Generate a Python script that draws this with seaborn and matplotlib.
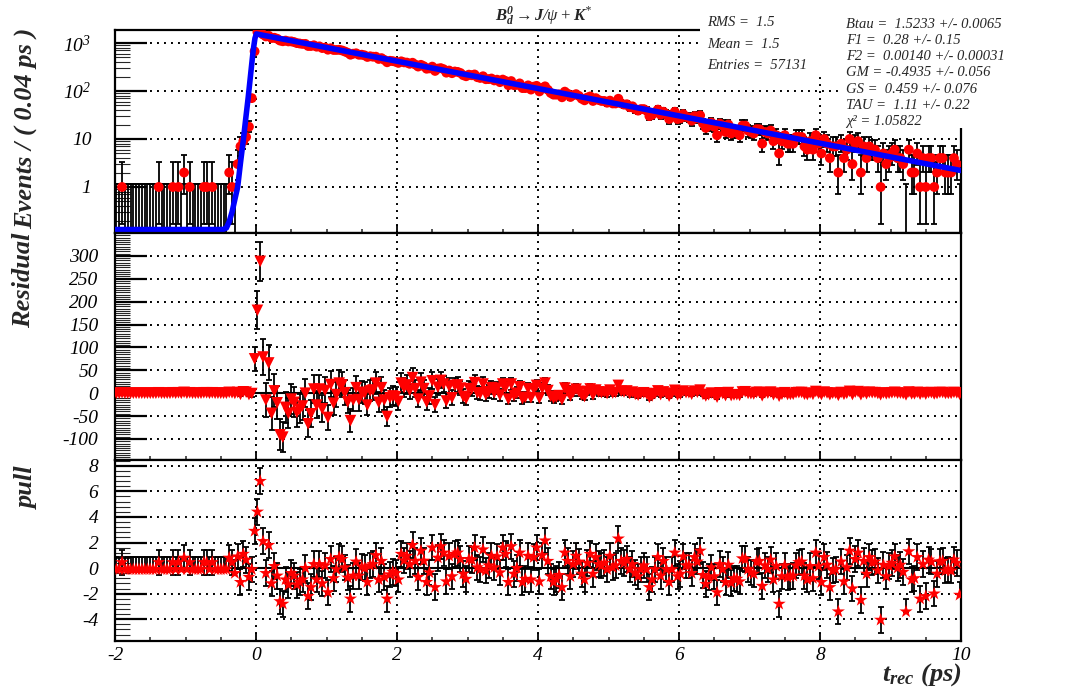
import numpy as np
import matplotlib
matplotlib.use("Agg")
import matplotlib.pyplot as plt
import seaborn as sns
from matplotlib.patches import Rectangle
from matplotlib.ticker import FixedLocator, FixedFormatter, MultipleLocator, NullFormatter

# ---------------- data ----------------
t_range = (-2.0, 10.0)
n_bins = 300

counts = [
    0, 0, 1, 0, 0, 0, 0, 0, 0, 0,
    0, 0, 0, 0, 0, 1, 0, 0, 0, 0,
    1, 0, 1, 0, 2, 0, 1, 0, 0, 0,
    0, 1, 1, 0, 1, 0, 0, 0, 0, 0,
    2, 1, 0, 3, 7, 9, 11, 18, 71, 670,
    1690, 1750, 1502, 1371, 1416, 1271, 1286, 1227, 1124, 1088,
    1122, 1079, 1081, 1046, 996, 976, 957, 959, 867, 865,
    896, 838, 850, 785, 804, 725, 777, 716, 716, 722,
    700, 665, 628, 570, 599, 610, 569, 570, 553, 512,
    529, 518, 519, 465, 484, 445, 397, 426, 419, 406,
    385, 415, 395, 391, 369, 388, 355, 323, 351, 329,
    291, 296, 322, 262, 293, 300, 285, 241, 267, 235,
    255, 250, 237, 213, 203, 219, 213, 221, 194, 187,
    203, 176, 177, 182, 166, 172, 153, 173, 162, 132,
    161, 132, 134, 144, 115, 115, 131, 107, 123, 128,
    98, 116, 125, 106, 91, 84, 84, 85, 74, 97,
    88, 75, 82, 86, 79, 69, 64, 73, 77, 62,
    71, 65, 62, 62, 57, 63, 55, 55, 69, 55,
    52, 53, 46, 48, 42, 39, 42, 42, 39, 30,
    32, 36, 41, 32, 37, 33, 26, 31, 37, 26,
    27, 33, 29, 28, 24, 30, 27, 31, 21, 17,
    19, 22, 18, 12, 21, 19, 14, 20, 13, 14,
    14, 12, 19, 19, 15, 14, 13, 16, 16, 8,
    14, 13, 15, 9, 12, 5, 9, 12, 8, 8,
    8, 11, 11, 11, 7, 6, 9, 6, 12, 8,
    5, 10, 8, 4, 7, 7, 2, 8, 4, 6,
    10, 3, 8, 9, 2, 7, 4, 7, 6, 6,
    4, 1, 5, 3, 4, 5, 6, 4, 4, 3,
    0, 6, 2, 2, 5, 1, 4, 1, 4, 4,
    1, 2, 4, 4, 2, 2, 2, 4, 3, 0,
]

residual = [
    -0.1, -0.1, 0.9, -0.1, -0.1, -0.1, -0.1, -0.1, -0.1, -0.1,
    -0.1, -0.1, -0.1, -0.1, -0.1, 0.9, -0.1, -0.1, -0.1, -0.1,
    0.9, -0.1, 0.9, -0.1, 1.8, -0.1, 0.9, -0.1, -0.1, -0.1,
    -0.1, 0.9, 0.9, -0.1, 0.9, -0.1, -0.1, -0.1, -0.1, -0.1,
    1.8, 0.9, -0.4, 1.5, -2.5, 3.0, 2.2, -3.0, -0.8, 75,
    181, 288, 79, -15, 66, -44, 5, -21, -91, -96,
    -31, -44, -13, -20, -42, -35, -28, 0, -67, -45,
    9, -26, 9, -34, 6, -53, 19, -22, -3, 22,
    18, 1, -19, -60, -15, 12, -14, 2, 0, -26,
    5, 7, 22, -20, 12, -15, -51, -10, -6, -8,
    -18, 22, 12, 18, 6, 34, 10, -13, 24, 10,
    -19, -6, 27, -25, 13, 28, 20, -17, 15, -10,
    17, 18, 11, -7, -12, 10, 9, 23, 1, -1,
    20, -3, 3, 12, 1, 11, -4, 20, 13, -13,
    20, -5, 0, 14, -12, -9, 10, -10, 9, 17,
    -10.5, 10.3, 22.0, 5.7, -6.7, -11.2, -8.7, -5.3, -14.0, 11.3,
    4.5, -6.3, 2.8, 8.8, 3.8, -4.2, -7.3, 3.5, 9.3, -3.9,
    6.8, 2.5, 1.1, 2.7, -0.8, 6.7, 0.2, 1.6, 17.0, 4.3,
    2.6, 4.9, -0.9, 2.4, -2.5, -4.3, -0.2, 0.9, -1.0, -9.0,
    -5.9, -1.0, 5.0, -3.1, 2.8, -0.3, -6.4, -0.6, 6.3, -3.9,
    -2.2, 4.6, 1.3, 1.0, -2.3, 4.4, 2.1, 6.7, -2.6, -6.0,
    -3.4, 0.2, -3.3, -8.7, 0.8, -0.7, -5.2, 1.3, -5.2, -3.7,
    -3.3, -4.8, 2.6, 3.1, -0.5, -1.1, -1.7, 1.6, 2.0, -5.6,
    0.7, 0.1, 2.4, -3.3, 0.1, -6.6, -2.3, 1.0, -2.8, -2.5,
    -2.2, 1.0, 1.3, 1.6, -2.2, -3.0, 0.3, -2.5, 3.7, -0.1,
    -2.9, 2.4, 0.6, -3.3, -0.1, 0.1, -4.7, 1.5, -2.4, -0.2,
    4.0, -2.9, 2.3, 3.4, -3.4, 1.7, -1.2, 2.0, 1.1, 1.2,
    -0.6, -3.5, 0.6, -1.3, -0.2, 0.9, 2.0, 0.1, 0.2, -0.7,
    -3.6, 2.5, -1.4, -1.3, 1.8, -2.1, 1.0, -2.0, 1.1, 1.2,
    -1.7, -0.7, 1.4, 1.5, -0.5, -0.4, -0.3, 1.7, 0.8, -2.2,
]

pull = [
    -0.1, -0.1, 0.45, -0.1, -0.1, -0.1, -0.1, -0.1, -0.1, -0.1,
    -0.1, -0.1, -0.1, -0.1, -0.1, 0.45, -0.1, -0.1, -0.1, -0.1,
    0.45, -0.1, 0.45, -0.1, 0.8, -0.1, 0.45, -0.1, -0.1, -0.1,
    -0.1, 0.45, 0.45, -0.1, 0.45, -0.1, -0.1, -0.1, -0.1, -0.1,
    0.8, 0.45, -0.4, 0.9, -1.1, 1.1, 0.65, -0.7, -0.1, 2.9,
    4.4, 6.8, 2.1, -0.4, 1.8, -1.2, 0.15, -0.6, -2.6, -2.8,
    -0.9, -1.3, -0.4, -0.6, -1.3, -1.1, -0.9, 0.0, -2.2, -1.5,
    0.3, -0.9, 0.3, -1.2, 0.2, -1.9, 0.7, -0.8, -0.1, 0.85,
    0.7, 0.05, -0.75, -2.4, -0.6, 0.5, -0.6, 0.1, 0.0, -1.1,
    0.2, 0.3, 1.0, -0.9, 0.55, -0.7, -2.4, -0.5, -0.3, -0.4,
    -0.9, 1.1, 0.6, 0.95, 0.3, 1.8, 0.55, -0.7, 1.35, 0.57,
    -1.1, -0.35, 1.6, -1.5, 0.8, 1.7, 1.2, -1.05, 0.95, -0.65,
    1.1, 1.2, 0.7, -0.45, -0.85, 0.7, 0.65, 1.6, 0.05, -0.1,
    1.45, -0.2, 0.2, 0.95, 0.05, 0.9, -0.35, 1.6, 1.1, -1.1,
    1.7, -0.45, 0.0, 1.2, -1.1, -0.85, 0.95, -0.9, 0.85, 1.6,
    -1.05, 1.0, 2.15, 0.55, -0.65, -1.1, -0.85, -0.55, -1.5, 1.2,
    0.55, -0.65, 0.3, 0.95, 0.5, -0.45, -0.9, 0.4, 1.1, -0.45,
    0.85, 0.3, 0.2, 0.4, -0.1, 0.95, 0.05, 0.2, 2.3, 0.55,
    0.4, 0.7, -0.1, 0.3, -0.35, -0.65, -0.1, 0.2, -0.1, -1.5,
    -0.9, -0.1, 0.85, -0.6, 0.55, -0.1, -1.1, -0.1, 1.2, -0.65,
    -0.45, 0.9, 0.2, 0.2, -0.4, 0.85, 0.5, 1.35, -0.55, -1.25,
    -0.7, 0.05, -0.65, -1.9, 0.3, -0.1, -1.1, 0.25, -1.15, -0.8,
    -0.85, -1.05, 0.75, 0.7, -0.1, -0.35, -0.45, 0.5, 0.55, -1.4,
    0.2, -0.1, 0.65, -0.9, 0.15, -2.8, -0.65, 0.2, -0.7, -0.65,
    -0.6, 0.2, 0.45, 0.5, -0.6, -0.9, 0.15, -0.8, 1.2, 0.15,
    -1.1, 0.85, 0.25, -1.5, -0.2, -0.1, -3.4, 0.5, -1.05, 0.05,
    1.35, -1.6, 0.7, 1.2, -2.5, 0.55, -0.45, 0.85, 0.45, 0.5,
    -0.2, -4.05, 0.25, -0.65, 0.15, 0.4, 0.9, 0.0, 0.25, -0.3,
    -3.4, 1.3, -0.9, -0.8, 0.85, -2.4, 0.3, -2.2, 0.65, 0.5,
    -2.0, -0.45, 0.5, 0.55, -0.2, -0.1, -0.2, 0.65, 0.4, -2.1,
]

# fitted curve at a few points
fit_t = [-2.0, -0.47, -0.42, -0.38, -0.34, -0.30, -0.26, -0.22, -0.18,
         -0.145, -0.11, -0.075, -0.04, -0.015, 0.005, 10.0]
fit_y = [0.13, 0.13, 0.14, 0.19, 0.3, 0.55, 1.0, 3.2, 9.5,
         27, 75, 230, 700, 1250, 1545, 2.2]

# Poisson 68% intervals for small counts (RooFit style)
pois_lo = [0.0, 0.827, 1.292, 1.633, 1.914, 2.160, 2.380, 2.581, 2.768, 2.943]
pois_hi = [1.148, 2.300, 2.638, 2.918, 3.163, 3.382, 3.584, 3.770, 3.945, 4.110]

top_ticks = [1, 10, 100, 1000]
top_labels = ["1", "10", r"$\mathit{10}^{\mathit{2}}$", r"$\mathit{10}^{\mathit{3}}$"]
mid_ticks = [-100, -50, 0, 50, 100, 150, 200, 250, 300]
bot_ticks = [-4, -2, 0, 2, 4, 6, 8]

stats_lines = ["RMS =  1.5", "Mean =  1.5", "Entries =  57131"]
param_lines = ["Btau =  1.5233 +/- 0.0065", "F1 =  0.28 +/- 0.15",
               "F2 =  0.00140 +/- 0.00031", "GM = -0.4935 +/- 0.056",
               "GS =  0.459 +/- 0.076", "TAU =  1.11 +/- 0.22",
               "\u03c7\u00b2 = 1.05822"]

# ---------------- style ----------------
sns.set_theme(style="white")
plt.rcParams["font.family"] = ["Liberation Serif", "DejaVu Serif"]
plt.rcParams["font.style"] = "italic"
plt.rcParams["axes.unicode_minus"] = False
plt.rcParams["mathtext.fontset"] = "custom"
plt.rcParams["mathtext.rm"] = "Liberation Serif"
plt.rcParams["mathtext.it"] = "Liberation Serif:italic"
plt.rcParams["mathtext.bf"] = "Liberation Serif:bold"
plt.rcParams["mathtext.bfit"] = "Liberation Serif:italic:bold"

W, H = 1073, 688
fig = plt.figure(figsize=(W / 100, H / 100), dpi=100)

def fx(px):
    return px / W

def fy(py):
    return 1 - py / H

left, right = 115, 961
ax_top = fig.add_axes([fx(left), fy(233), fx(right - left), (233 - 30) / H])
ax_mid = fig.add_axes([fx(left), fy(460), fx(right - left), (460 - 233) / H])
ax_bot = fig.add_axes([fx(left), fy(641), fx(right - left), (641 - 460) / H])

x = np.linspace(t_range[0] + 0.02, t_range[1] - 0.02, n_bins)
N = np.array(counts, dtype=float)
ni = np.array(counts, dtype=int)
small = ni < 10
elo = np.where(small, np.take(pois_lo, np.minimum(ni, 9)), np.sqrt(N))
ehi = np.where(small, np.take(pois_hi, np.minimum(ni, 9)), np.sqrt(N) + 1.0)
R = np.array(residual)
P = np.array(pull)
zero = ni == 0
pos = ~zero

ebar_kw = dict(fmt="none", ecolor="black", elinewidth=1.3, capsize=2.3, capthick=1.3, zorder=2)

# ---- top panel ----
ax = ax_top
ax.set_yscale("log")
ax.errorbar(x[pos], N[pos], yerr=[elo[pos], ehi[pos]], **ebar_kw)
ax.errorbar(x[zero], np.full(zero.sum(), 1e-3), yerr=[np.zeros(zero.sum()), ehi[zero] - 1e-3], **ebar_kw)
sns.scatterplot(x=x[pos], y=N[pos], marker="o", color="red", s=50, edgecolor="none", linewidth=0, ax=ax, zorder=3)
sns.lineplot(x=fit_t, y=fit_y, sort=False, estimator=None, color="blue", linewidth=4, ax=ax, zorder=4)
ax.set_ylim(0.11, 1866)
ax.yaxis.set_major_locator(FixedLocator(top_ticks))
ax.yaxis.set_major_formatter(FixedFormatter(top_labels))
minors = [m * 10.0 ** e for e in (-1, 0, 1, 2) for m in range(2, 10)]
ax.yaxis.set_minor_locator(FixedLocator(minors))
ax.yaxis.set_minor_formatter(NullFormatter())

# ---- middle panel ----
ax = ax_mid
ax.errorbar(x, R, yerr=[np.where(zero, 0, elo), ehi], **ebar_kw)
ax.axhline(0, color="black", lw=1.5, zorder=1.5)
sns.scatterplot(x=x, y=R, marker="v", color="red", s=70, edgecolor="none", linewidth=0, ax=ax, zorder=3)
ax.set_ylim(-146, 350)
ax.yaxis.set_major_locator(FixedLocator(mid_ticks))
ax.yaxis.set_minor_locator(MultipleLocator(5))

# ---- bottom panel ----
ax = ax_bot
ax.errorbar(x, P, yerr=[np.where(zero, 0.0, 1.0), np.ones(n_bins)], **ebar_kw)
ax.axhline(0, color="black", lw=1.5, zorder=1.5)
sns.scatterplot(x=x, y=P, marker="*", color="red", s=100, edgecolor="none", linewidth=0, ax=ax, zorder=3)
ax.set_ylim(-5.7, 8.45)
ax.yaxis.set_major_locator(FixedLocator(bot_ticks))
ax.yaxis.set_minor_locator(MultipleLocator(0.4))

for i, ax in enumerate([ax_top, ax_mid, ax_bot]):
    ax.set_xlim(*t_range)
    ax.xaxis.set_major_locator(MultipleLocator(2))
    ax.xaxis.set_minor_locator(MultipleLocator(0.5))
    ax.grid(True, which="major", color="black", linestyle=(0, (1, 2.6)), linewidth=1.4)
    ax.set_axisbelow(True)
    for sp in ax.spines.values():
        sp.set_color("black")
        sp.set_linewidth(1.6)
    ax.tick_params(axis="x", which="major", direction="in", length=6, width=1.3, bottom=True, top=False,
                   labelsize=14, pad=4, colors="black")
    ax.tick_params(axis="x", which="minor", direction="in", length=3, width=1.1, bottom=True, top=False)
    ax.tick_params(axis="y", which="major", direction="in", length=23, width=1.6, left=True, right=False,
                   labelsize=14, pad=12 if i else 17, colors="black")
    ax.tick_params(axis="y", which="minor", direction="in", length=11, width=0.8, left=True, right=False)
    ax.set_xlabel("")
    ax.set_ylabel("")
    if i < 2:
        ax.tick_params(axis="x", labelbottom=False)

# ---- axis titles ----
title_kw = dict(fontsize=19, fontweight="bold", style="italic", rotation=90, ha="center", va="center")
fig.text(fx(27), fy(128), "Events / ( 0.04 ps )", **title_kw)
fig.text(fx(24), fy(280), "Residual", **title_kw)
fig.text(fx(27), fy(488), "pull", **title_kw)
fig.text(fx(962), fy(675), r"$\mathbfit{t}_{\mathbfit{rec}}$ (ps)", fontsize=19, fontweight="bold",
         style="italic", ha="right", va="center")

# ---- stat boxes (white, no border) ----
fig.add_artist(Rectangle((fx(700), fy(75)), fx(142), 75 / H, transform=fig.transFigure,
                         facecolor="white", edgecolor="none", zorder=10))
fig.add_artist(Rectangle((fx(842), fy(128)), fx(W - 842), 128 / H, transform=fig.transFigure,
                         facecolor="white", edgecolor="none", zorder=10))
for j, s in enumerate(stats_lines):
    fig.text(fx(707), fy(23 + 21.3 * j), s, fontsize=10.5, ha="left", va="center", zorder=11)
for j, s in enumerate(param_lines):
    fig.text(fx(846), fy(24 + 16.3 * j), s, fontsize=10.5, ha="left", va="center", zorder=11)

fig.text(fx(544), fy(16), r"$\mathbfit{B}_{\mathbfit{d}}^{\mathbfit{0}}\rightarrow\mathbfit{J}/\psi+\mathbfit{K}^{*}$",
         fontsize=12, ha="center", va="center", zorder=11)

fig.savefig("out.png", dpi=100)
